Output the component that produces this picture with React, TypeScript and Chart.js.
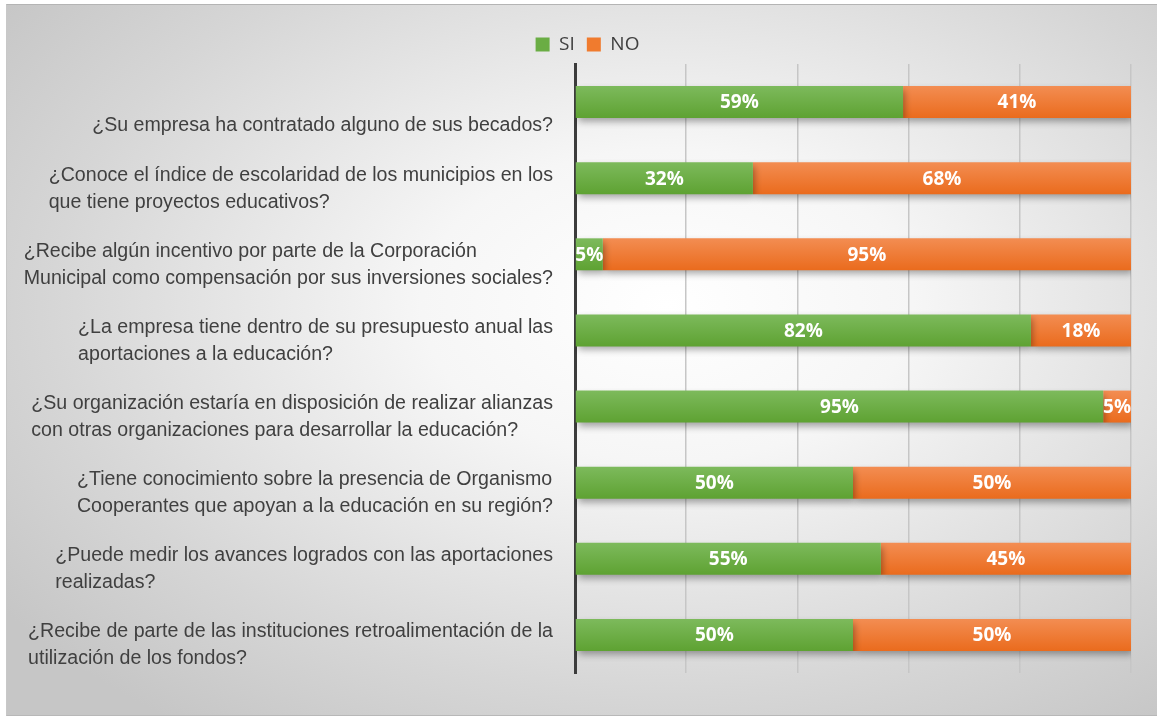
import React, { useEffect, useRef } from 'react';
import { Chart, registerables } from 'chart.js';

Chart.register(...registerables);

const categories: string[][] = [
  ['¿Su empresa ha contratado alguno de sus becados?'],
  ['¿Conoce el índice de escolaridad de los municipios en los', 'que tiene proyectos educativos?'],
  ['¿Recibe algún incentivo por parte de la Corporación', 'Municipal como compensación por sus inversiones sociales?'],
  ['¿La empresa tiene dentro de su presupuesto anual las', 'aportaciones a la educación?'],
  ['¿Su organización estaría en disposición de realizar alianzas', 'con otras organizaciones para desarrollar la educación?'],
  ['¿Tiene conocimiento sobre la presencia de Organismo', 'Cooperantes que apoyan a la educación en su región?'],
  ['¿Puede medir los avances logrados con las aportaciones', 'realizadas?'],
  ['¿Recibe de parte de las instituciones retroalimentación de la', 'utilización de los fondos?'],
];

const seriesNames = ['SI', 'NO'];
const siValues = [59, 32, 5, 82, 95, 50, 55, 50];
const noValues = [41, 68, 95, 18, 5, 50, 45, 50];
const xTickValues = [0, 20, 40, 60, 80, 100];

const LABEL_FONT = '19.6px "Liberation Sans", Arial, sans-serif';
const BAR_PCT = 0.42;

function barGradient(top: string, bottom: string, solid: string) {
  return (ctx: any) => {
    const chart = ctx.chart;
    const y = chart.scales && chart.scales.y;
    if (!chart.chartArea || !y || ctx.dataIndex === undefined) return solid;
    const center = y.getPixelForValue(ctx.dataIndex);
    const half = (y.height / categories.length) * BAR_PCT / 2;
    const g = chart.ctx.createLinearGradient(0, center - half, 0, center + half);
    g.addColorStop(0, top);
    g.addColorStop(1, bottom);
    return g;
  };
}

const shadowPlugin = {
  id: 'barShadow',
  beforeDatasetsDraw(chart: any) {
    const c = chart.ctx;
    c.save();
    c.shadowColor = 'rgba(0,0,0,0.35)';
    c.shadowBlur = 7;
    c.shadowOffsetX = 2;
    c.shadowOffsetY = 4;
  },
  afterDatasetsDraw(chart: any) {
    chart.ctx.restore();
  },
};

const labelPlugin = {
  id: 'customLabels',
  afterDraw(chart: any) {
    const c = chart.ctx;
    const yScale = chart.scales.y;
    c.save();
    c.font = LABEL_FONT;
    c.fillStyle = '#404040';
    c.textAlign = 'left';
    c.textBaseline = 'middle';
    const rightEdge = chart.chartArea.left - 22;
    const lineH = 27;
    categories.forEach((lines, i) => {
      const center = yScale.getPixelForValue(i);
      const maxW = Math.max(...lines.map((l) => c.measureText(l).width));
      const x0 = rightEdge - maxW;
      const lastY = center + 24;
      lines.forEach((l, k) => {
        c.fillText(l, x0, lastY - (lines.length - 1 - k) * lineH);
      });
    });
    c.restore();

    c.save();
    c.font = 'bold 19px "Open Sans", "Noto Sans", sans-serif';
    c.fillStyle = '#ffffff';
    c.textAlign = 'center';
    c.textBaseline = 'middle';
    chart.data.datasets.forEach((ds: any, di: number) => {
      const meta = chart.getDatasetMeta(di);
      meta.data.forEach((el: any, i: number) => {
        const v = ds.data[i];
        const cx = (el.x + el.base) / 2;
        c.fillText(v + '%', cx, el.y + 1);
      });
    });
    c.restore();
  },
};

export default function App() {
  const ref = useRef<HTMLCanvasElement>(null);
  useEffect(() => {
    if (!ref.current) return;
    const chart = new Chart(ref.current, {
      type: 'bar',
      data: {
        labels: categories.map((l) => l.join(' ')),
        datasets: [
          {
            label: seriesNames[0],
            data: siValues,
            backgroundColor: barGradient('#7dba5c', '#5ea232', '#6aad44'),
            borderWidth: 0,
            barPercentage: BAR_PCT,
            categoryPercentage: 1,
          },
          {
            label: seriesNames[1],
            data: noValues,
            backgroundColor: barGradient('#f38d52', '#ea6b1d', '#f07b2e'),
            borderWidth: 0,
            barPercentage: BAR_PCT,
            categoryPercentage: 1,
          },
        ],
      },
      options: {
        indexAxis: 'y',
        responsive: false,
        maintainAspectRatio: false,
        animation: false,
        layout: { padding: { top: 23, right: 26, bottom: 44, left: 44 } },
        plugins: {
          tooltip: { enabled: false },
          legend: {
            position: 'top',
            labels: {
              boxWidth: 14,
              boxHeight: 14,
              padding: 12,
              color: '#404040',
              font: { size: 19, family: '"Open Sans", "Noto Sans", sans-serif' },
              generateLabels: () => [
                { text: seriesNames[0], fillStyle: '#6aad44', strokeStyle: '#6aad44', lineWidth: 0, datasetIndex: 0, fontColor: '#404040' },
                { text: seriesNames[1], fillStyle: '#f07b2e', strokeStyle: '#f07b2e', lineWidth: 0, datasetIndex: 1, fontColor: '#404040' },
              ],
            },
          },
        },
        scales: {
          x: {
            stacked: true,
            min: 0,
            max: 100,
            afterBuildTicks: (scale: any) => {
              scale.ticks = xTickValues.map((v) => ({ value: v }));
            },
            ticks: { display: false },
            grid: { color: '#c6c6c6', lineWidth: 1.5, drawTicks: false },
            border: { display: false },
          },
          y: {
            stacked: true,
            ticks: { display: false },
            grid: { display: false, drawTicks: false },
            border: { display: true, color: '#3c3c3c', width: 3 },
            afterFit: (scale: any) => {
              scale.width = 575 - 44;
            },
          },
        },
      },
      plugins: [shadowPlugin, labelPlugin],
    } as any);
    return () => chart.destroy();
  }, []);

  return (
    <div style={{ position: 'absolute', left: 0, top: 0, width: 1157, height: 717, background: '#ffffff', overflow: 'hidden' }}>
      <div
        style={{
          position: 'absolute',
          left: 6,
          top: 4,
          width: 1160,
          height: 710,
          borderTop: '1px solid #b4b4b4',
          borderLeft: '1px solid #c8c8c8',
          borderBottom: '1px solid #b8b8b8',
          background: 'radial-gradient(ellipse 820px 520px at 660px 300px, #ffffff 0%, #f6f6f6 30%, #d6d6d6 75%, #c6c6c6 100%)',
        }}
      />
      <canvas ref={ref} width={1157} height={717} style={{ position: 'absolute', left: 0, top: 0 }} />
    </div>
  );
}
